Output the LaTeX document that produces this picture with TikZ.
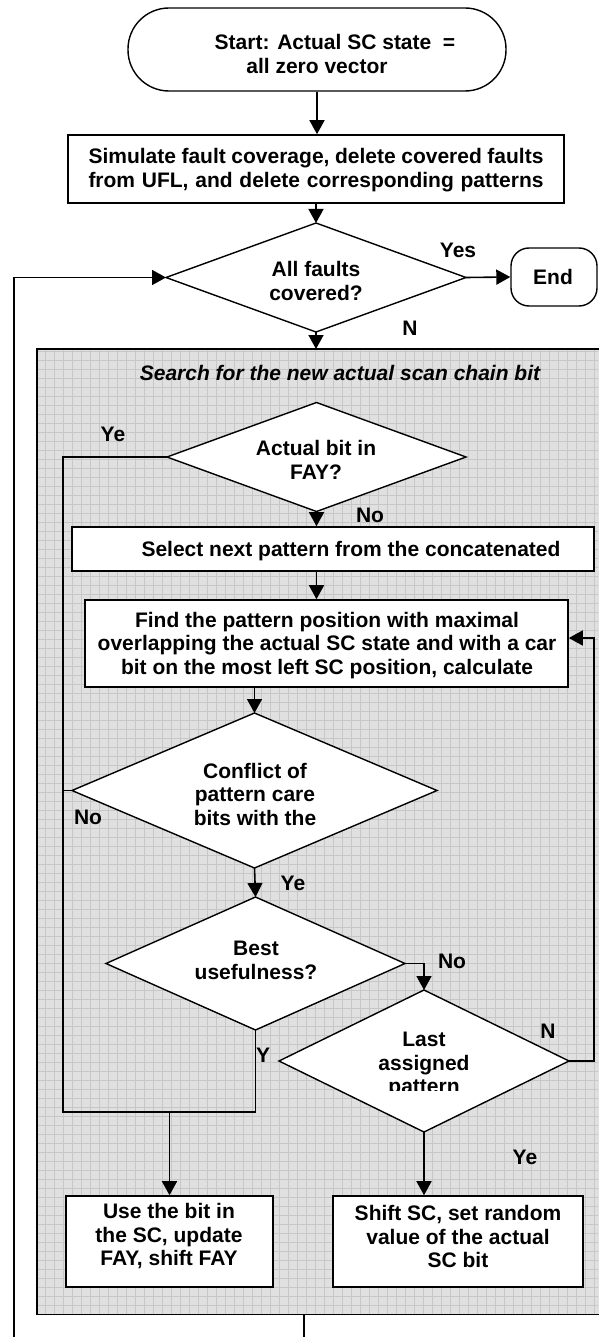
\documentclass[tikz,border=0pt]{standalone}
\usepackage{fontspec}
\setmainfont{Liberation Sans}
\usetikzlibrary{shapes.geometric,arrows.meta}
\begin{document}
\begin{tikzpicture}[x=1pt,y=-1pt,
  txt/.style={font=\bfseries\fontsize{21}{23.5}\selectfont, align=center, inner sep=0pt},
  lab/.style={font=\bfseries\fontsize{21}{23.5}\selectfont, inner sep=0pt},
  proc/.style={draw, fill=white, line width=1.6pt, inner sep=0pt},
  term/.style={draw, fill=white, line width=1.4pt, inner sep=0pt},
  dia/.style={diamond, draw, fill=white, line width=1.4pt, inner sep=0pt, outer sep=0pt},
  conn/.style={line width=1.6pt},
  arr/.style={line width=1.6pt, -{Triangle[length=14pt,width=15pt]}},
  gridline/.style={draw=black!22, line width=0.5pt}]
\useasboundingbox (0,0) rectangle (598,1337);
\fill[white] (0,0) rectangle (598,1337);

% grey group box
\node[fill=black!12, draw=none, minimum width=564pt, minimum height=965pt, anchor=north west, inner sep=0pt] (grp) at (37,349) {};
\begin{scope}
  \clip (38,350) rectangle (598,1313);
  \draw[gridline, step=9pt] (37,349) grid (600,1314);
\end{scope}
\draw[line width=1.6pt] (grp.north east) -- (grp.north west) -- (grp.south west) -- (grp.south east);

% nodes
\node[term, rounded corners=41pt, minimum width=378pt, minimum height=83pt] (start) at (317,49.5) {};
\node[txt] (startt) at (317,54) {\hspace*{36pt}Start: Actual SC state\ \ =\\all zero vector};

\node[proc, minimum width=496pt, minimum height=68pt] (box1) at (316,169) {};
\node[txt] (box1t) at (316,170) {\makebox[455pt][s]{Simulate fault coverage, delete covered faults}\\\makebox[455pt][s]{from UFL, and delete corresponding patterns}};

\node[dia, minimum width=300pt, minimum height=109pt] (d1) at (316,277.5) {};
\node[txt] (d1t) at (316,281) {All faults\\covered?};

\node[term, rounded corners=18pt, minimum width=86pt, minimum height=58pt] (endn) at (554,277) {};
\node[lab] (endt) at (553,277) {End};

\node[lab, font=\bfseries\itshape\fontsize{21}{23.5}\selectfont] (title) at (340,373) {Search for the new actual scan chain bit};

\node[dia, minimum width=299pt, minimum height=109pt] (d2) at (316.5,457) {};
\node[txt] (d2t) at (316,460) {Actual bit in\\FAY?};

\node[proc, minimum width=522pt, minimum height=44pt] (box2) at (333,549) {};
\node[txt] (box2t) at (333,551) {\hspace*{36pt}Select next pattern from the concatenated};

\node[proc, minimum width=483pt, minimum height=87pt] (box3) at (326.5,643.5) {};
\node[txt] (box3t) at (327,645.5) {Find the pattern position with maximal\\overlapping the actual SC state and with a car\\bit on the most left SC position, calculate};

\node[dia, minimum width=365pt, minimum height=155pt] (d3) at (254.5,790.5) {};
\begin{scope}
  \clip (100,740) rectangle (420,826);
  \node[txt] (d3t) at (255,794) {Conflict of\\pattern care\\bits with the};
\end{scope}

\node[dia, minimum width=299pt, minimum height=133pt] (d4) at (255.5,963.5) {};
\node[txt] (d4t) at (256,960.5) {Best\\usefulness?};

\node[dia, minimum width=290pt, minimum height=142pt] (d5) at (424,1061) {};
\begin{scope}
  \clip (300,1020) rectangle (550,1090);
  \node[txt] (d5t) at (424,1065) {Last\\assigned\\pattern};
\end{scope}

\node[proc, minimum width=207pt, minimum height=91pt] (boxL) at (169.5,1241.5) {};
\node[txt] (boxLt) at (169,1236.5) {Use the bit in\\the SC, update\\FAY, shift FAY};

\node[proc, minimum width=250pt, minimum height=91pt] (boxR) at (458,1241.5) {};
\node[txt] (boxRt) at (458,1236.5) {Shift SC, set random\\value of the actual\\SC bit};

% helper coordinates
\coordinate (loopA) at (304,1341);
\coordinate (loopB) at (14,1341);
\coordinate (loopC) at (14,277.5);
\coordinate (jl) at (63,1112);
\coordinate (rl) at (594,638);

% connectors
\draw[arr] (start.south) -- (start.south |- box1.north);
\draw[arr] (box1.south -| d1.north) -- (d1.north);
\draw[arr] (d1.east) -- (endn.west);
\draw[arr] (d1.south) -- (d1.south |- grp.north);
\draw[arr] (loopA |- grp.south) -- (loopA) -- (loopB) -- (loopC) -- (d1.west);
\draw[arr] (d2.south) -- (d2.south |- box2.north);
\draw[arr] (box2.south -| d2.south) -- (box3.north -| d2.south);
\draw[arr] (box3.south -| d3.north) -- (d3.north);
\draw[arr] (d3.south) -- (d4.north);
\draw[conn] (d2.west) -| (jl) -- (jl -| d4.south) -- (d4.south);
\draw[conn] (d3.west) -- (d3.west -| jl);
\draw[arr] (boxL.north |- jl) -- (boxL.north);
\draw[arr] (d4.east) -| (d5.north);
\draw[arr] (d5.south) -- (d5.south |- boxR.north);
\draw[arr] (d5.east) -| (rl) -- (rl -| box3.east);

% labels
\node[lab] (lyes) at (458,250) {Yes};
\node[lab] (ln1) at (410,328) {N};
\node[lab] (lye1) at (113,434) {Ye};
\node[lab] (lno1) at (370,515) {No};
\node[lab] (lno2) at (88,817) {No};
\node[lab] (lye2) at (293,883) {Ye};
\node[lab] (lno3) at (452,961) {No};
\node[lab] (ln2) at (548,1031) {N};
\node[lab] (ly) at (263,1055) {Y};
\node[lab] (lye3) at (525,1157) {Ye};
\end{tikzpicture}
\end{document}
